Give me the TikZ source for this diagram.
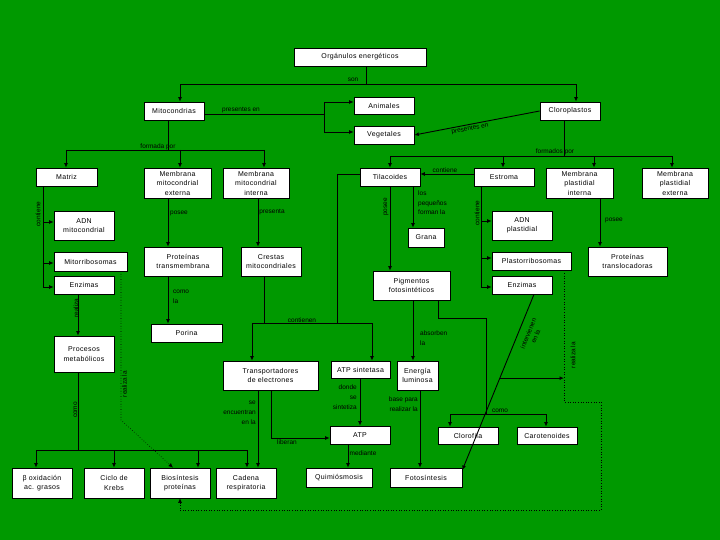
\documentclass[tikz,border=0pt]{standalone}
\usepackage{fontspec}
\setmainfont{Liberation Sans}
\newfontfamily\boxfont{Liberation Sans}[LetterSpace=5]
\usetikzlibrary{arrows.meta,calc}
\definecolor{bg}{RGB}{0,153,0}
\begin{document}
\begin{tikzpicture}[x=1pt,y=-1pt,
  box/.style={draw=black, fill=white, line width=0.7pt, inner sep=0pt, align=center,
    font=\boxfont\fontsize{7}{9.5}\selectfont},
  wh/.style 2 args={minimum width=#1pt, minimum height=#2pt},
  lbl/.style={font=\fontsize{6.5}{10}\selectfont, inner sep=0pt},
  con/.style={line width=0.9pt},
  arr/.style={con, -{Latex[length=4.5pt,width=4pt]}},
  dot/.style={line width=0.6pt, dotted},
  darr/.style={dot, -{Latex[length=4.5pt,width=4pt]}}]
\fill[bg] (0,0) rectangle (720,540);
\useasboundingbox (0,0) rectangle (720,540);

% nodes
\node[box, wh={132}{18}] (org) at (360,57) {Orgánulos energéticos};
\node[box, wh={60}{18}] (mito) at (174,111) {Mitocondrias};
\node[box, wh={60}{17}] (anim) at (384,105.5) {Animales};
\node[box, wh={60}{18}] (veg) at (384,135) {Vegetales};
\node[box, wh={60}{18}] (cloro) at (570,111) {Cloroplastos};
\node[box, wh={61}{18}] (matriz) at (66.5,177) {Matriz};
\node[box, wh={67}{30}] (mext) at (177.5,183) {Membrana\\mitocondrial\\externa};
\node[box, wh={66}{30}] (mint) at (256,183) {Membrana\\mitocondrial\\interna};
\node[box, wh={60}{18}] (tila) at (390,177) {Tilacoides};
\node[box, wh={60}{18}] (estroma) at (504,177) {Estroma};
\node[box, wh={67}{30}] (mpint) at (579.5,183) {Membrana\\plastidial\\interna};
\node[box, wh={66}{30}] (mpext) at (675,183) {Membrana\\plastidial\\externa};
\node[box, wh={60}{29}] (adnm) at (84,225.5) {ADN\\mitocondrial};
\node[box, wh={73}{19}] (mitor) at (90.5,261.5) {Mitorribosomas};
\node[box, wh={60}{18}] (enzm) at (84,285) {Enzimas};
\node[box, wh={78}{29}] (ptm) at (183,261.5) {Proteínas\\transmembrana};
\node[box, wh={60}{29}] (crestas) at (271,261.5) {Crestas\\mitocondriales};
\node[box, wh={36}{19}] (grana) at (426,237.5) {Grana};
\node[box, wh={77}{29}] (pigm) at (411.5,285.5) {Pigmentos\\fotosintéticos};
\node[box, wh={60}{29}] (adnp) at (522,225.5) {ADN\\plastidial};
\node[box, wh={79}{18}] (plastor) at (531.5,261) {Plastorribosomas};
\node[box, wh={60}{18}] (enzp) at (522,285) {Enzimas};
\node[box, wh={79}{29}] (ptl) at (627.5,261.5) {Proteínas\\translocadoras};
\node[box, wh={71}{18}] (porina) at (186.5,333) {Porina};
\node[box, wh={60}{36}] (procm) at (84,354) {Procesos\\metabólicos};
\node[box, wh={95}{29}] (transp) at (270.5,375.5) {Transportadores\\de electrones};
\node[box, wh={59}{17}] (atps) at (360.5,369.5) {ATP sintetasa};
\node[box, wh={41}{29}] (energia) at (417.5,375.5) {Energía\\luminosa};
\node[box, wh={60}{18}] (atp) at (360,435) {ATP};
\node[box, wh={60}{17}] (clorofila) at (468,435.5) {Clorofila};
\node[box, wh={60}{17}] (carot) at (547,435.5) {Carotenoides};
\node[box, wh={60}{30}] (beta) at (42,483) {β oxidación\\ac. grasos};
\node[box, wh={60}{30}] (krebs) at (114,483) {Ciclo de\\Krebs};
\node[box, wh={60}{30}] (bios) at (180,483) {Biosíntesis\\proteínas};
\node[box, wh={60}{30}] (cadena) at (246,483) {Cadena\\respiratoria};
\node[box, wh={66}{19}] (quimio) at (339,477.5) {Quimiósmosis};
\node[box, wh={72}{19}] (foto) at (426,477.5) {Fotosíntesis};

% son
\coordinate (s1) at (366,84); \coordinate (s2) at (180,84); \coordinate (s3) at (576,84);
\draw[con] (org.south -| s1) -- (s1);
\draw[arr] (s1) -- (s2) -- (mito.north -| s2);
\draw[arr] (s1) -- (s3) -- (cloro.north -| s3);
\node[lbl] (lson) at (353,80) {son};

% presentes en (mito)
\coordinate (p1) at (324,114); \coordinate (p2) at (324,102); \coordinate (p3) at (324,132);
\draw[con] (mito.east |- p1) -- (p1);
\draw[con] (p2) -- (p3);
\draw[arr] (p2) -- (anim.west |- p2);
\draw[arr] (p3) -- (veg.west |- p3);
\node[lbl] (lpres1) at (241,110) {presentes en};

% presentes en (cloro)
\draw[arr] (cloro.west) -- (veg.east);
\node[lbl, rotate=11] (lpres2) at (470,129) {presentes en};

% formada por
\coordinate (f1) at (168,150); \coordinate (f2) at (66,150); \coordinate (f3) at (264,150); \coordinate (f4) at (180,150);
\draw[con] (mito.south -| f1) -- (f1);
\draw[con] (f2) -- (f3);
\draw[arr] (f2) -- (matriz.north -| f2);
\draw[arr] (f4) -- (mext.north -| f4);
\draw[arr] (f3) -- (mint.north -| f3);
\node[lbl] (lform1) at (158,147) {formada por};

% formados por
\coordinate (g1) at (564,156); \coordinate (g2) at (390,156); \coordinate (g3) at (503,156);
\coordinate (g4) at (594,156); \coordinate (g5) at (672,156);
\draw[con] (cloro.south -| g1) -- (g1);
\draw[con] (g2) -- (g5);
\draw[arr] (g2) -- (tila.north -| g2);
\draw[arr] (g3) -- (estroma.north -| g3);
\draw[arr] (g4) -- (mpint.north -| g4);
\draw[arr] (g5) -- (mpext.north -| g5);
\node[lbl] (lform2) at (555,152) {formados por};

% Matriz contiene
\coordinate (m1) at (43,287); \coordinate (m2) at (43,222); \coordinate (m3) at (43,263);
\draw[con] (matriz.south -| m1) -- (m1);
\draw[arr] (m2) -- (adnm.west |- m2);
\draw[arr] (m3) -- (mitor.west |- m3);
\draw[arr] (m1) -- (enzm.west |- m1);
\node[lbl, rotate=90] (lcont1) at (38,214) {contiene};

% membranas
\coordinate (xa) at (168,200); \coordinate (xb) at (258,200);
\draw[arr] (mext.south -| xa) -- (ptm.north -| xa);
\node[lbl] (lposee1) at (179,213) {posee};
\draw[arr] (mint.south -| xb) -- (crestas.north -| xb);
\node[lbl] (lpresenta) at (272,212) {presenta};
\draw[arr] (ptm.south -| xa) -- (porina.north -| xa);
\node[lbl, anchor=west, align=left] (lcomo1) at (173,297) {como\\la};

% Enzimas -> Procesos
\coordinate (xc) at (78,300);
\draw[arr] (enzm.south -| xc) -- (procm.north -| xc);
\node[lbl, rotate=90] (lrealiza) at (76,308) {realiza};

% Procesos como
\coordinate (q1) at (78,450); \coordinate (q2) at (36,450); \coordinate (q3) at (114,450);
\coordinate (q4) at (198,450); \coordinate (q5) at (247,450);
\draw[con] (procm.south -| q1) -- (q1);
\draw[con] (q2) -- (q5);
\draw[arr] (q2) -- (beta.north -| q2);
\draw[arr] (q3) -- (krebs.north -| q3);
\draw[arr] (q4) -- (bios.north -| q4);
\draw[arr] (q5) -- (cadena.north -| q5);
\node[lbl, rotate=90] (lcomo2) at (75.5,410) {como};

% dotted Mitorribosomas -> Biosintesis
\coordinate (d1) at (121,420); \coordinate (d2) at (173,468);
\draw[darr] (mitor.south -| d1) -- (d1) -- (bios.north -| d2);
\node[lbl, rotate=90] (lreal1) at (124.5,384) {realiza la};

% contienen
\coordinate (k1) at (264,323); \coordinate (k2) at (337,323); \coordinate (k3) at (252,323);
\coordinate (k4) at (372,323); \coordinate (k5) at (337,174);
\draw[con] (crestas.south -| k1) -- (k1);
\draw[con] (tila.west |- k5) -- (k5) -- (k2);
\draw[con] (k3) -- (k4);
\draw[arr] (k3) -- (transp.north -| k3);
\draw[arr] (k4) -- (atps.north -| k4);
\node[lbl] (lconten) at (302,320) {contienen};

% Tilacoides
\coordinate (xd) at (390,200); \coordinate (xe) at (413,200);
\draw[arr] (tila.south -| xd) -- (pigm.north -| xd);
\node[lbl, rotate=90] (lposee2) at (386,207) {posee};
\draw[arr] (tila.south -| xe) -- (grana.north -| xe);
\node[lbl, anchor=west, align=left, font=\fontsize{6.5}{9.5}\selectfont] (lpeq) at (418,203) {los\\pequeños\\forman la};

% Estroma
\coordinate (e0) at (447,174);
\draw[arr] (estroma.west |- e0) -- (tila.east |- e0);
\node[lbl] (lcont2) at (445,170) {contiene};
\coordinate (n1) at (481,287); \coordinate (n2) at (481,221); \coordinate (n3) at (481,258);
\draw[con] (estroma.south -| n1) -- (n1);
\draw[arr] (n2) -- (adnp.west |- n2);
\draw[arr] (n3) -- (plastor.west |- n3);
\draw[arr] (n1) -- (enzp.west |- n1);
\node[lbl, rotate=90] (lcont3) at (477,213) {contiene};

% Membrana plastidial interna
\coordinate (xf) at (600,200);
\draw[arr] (mpint.south -| xf) -- (ptl.north -| xf);
\node[lbl] (lposee3) at (614,220) {posee};

% Pigmentos como
\coordinate (r1) at (438,318); \coordinate (r2) at (486,318); \coordinate (r3) at (486,414);
\coordinate (r4) at (450,414); \coordinate (r5) at (546,414);
\draw[con] (pigm.south -| r1) -- (r1) -- (r2) -- (r3);
\draw[con] (r4) -- (r5);
\draw[arr] (r4) -- (clorofila.north -| r4);
\draw[arr] (r5) -- (carot.north -| r5);
\node[lbl] (lcomo3) at (500,411) {como};

% Pigmentos -> Energia
\draw[arr] (pigm.south -| xe) -- (energia.north -| xe);
\node[lbl, anchor=west, align=left] (labs) at (420,338) {absorben\\la};

% Transportadores
\coordinate (xg) at (258,400); \coordinate (t1) at (271,438);
\draw[arr] (transp.south -| xg) -- (cadena.north -| xg);
\node[lbl, anchor=east, align=right, font=\fontsize{6.5}{10}\selectfont] (lencu) at (256,413) {se\\encuentran\\en la};
\draw[arr] (transp.south -| t1) -- (t1) -- (atp.west |- t1);
\node[lbl] (llib) at (287,442) {liberan};

% ATP sintetasa -> ATP
\coordinate (xh) at (360,400);
\draw[arr] (atps.south -| xh) -- (atp.north -| xh);
\node[lbl, anchor=east, align=right] (ldonde) at (357,397) {donde\\se\\sintetiza};

% ATP -> Quimiosmosis
\coordinate (xi) at (348,460);
\draw[arr] (atp.south -| xi) -- (quimio.north -| xi);
\node[lbl] (lmed) at (363,453) {mediante};

% Energia -> Fotosintesis
\coordinate (xj) at (420,430);
\draw[arr] (energia.south -| xj) -- (foto.north -| xj);
\node[lbl, anchor=east, align=right] (lbase) at (418,404) {base para\\realizar la};

% Enzimas plastidiales -> Fotosintesis
\coordinate (u1) at (534,294); \coordinate (u2) at (463,470); \coordinate (w1) at (564,378);
\draw[arr] (enzp.south -| u1) -- coordinate[pos=0.477] (dj) (foto.east |- u2);
\node[lbl, rotate=68, align=center, font=\fontsize{6.5}{8}\selectfont] (linter) at (532,335) {intervienen\\en la};
\draw[arr] (dj) -- (dj -| w1);

% dotted Plastorribosomas -> Biosintesis
\coordinate (v1) at (564,402); \coordinate (v2) at (601,402); \coordinate (v3) at (601,510); \coordinate (v4) at (180,510);
\draw[darr] (plastor.south -| v1) -- (v1) -- (v2) -- (v3) -- (v4) -- (bios.south -| v4);
\node[lbl, rotate=90] (lreal2) at (573,355) {realiza la};
\end{tikzpicture}
\end{document}
